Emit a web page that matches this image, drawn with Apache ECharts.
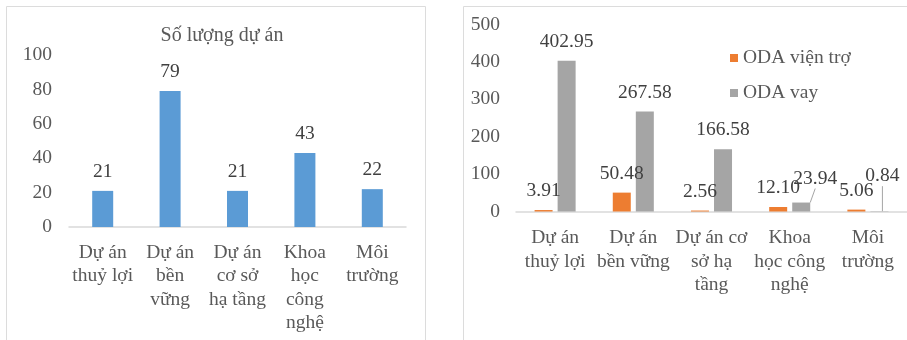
<!DOCTYPE html>
<html>
<head>
<meta charset="utf-8">
<script src="https://cdn.jsdelivr.net/npm/echarts@6/dist/echarts.min.js"></script>
<style>
  html, body { margin: 0; padding: 0; background: #fff; }
  #chart { width: 907px; height: 340px; }
</style>
</head>
<body>
<div id="chart"></div>
<script>
// Project counts by field
const countCategories = ['Dự án\nthuỷ lợi', 'Dự án\nbền\nvững', 'Dự án\ncơ sở\nhạ tầng', 'Khoa\nhọc\ncông\nnghệ', 'Môi\ntrường'];
const projectCounts = [21, 79, 21, 43, 22];
const countAxisMax = 100;
const countAxisStep = 20;

// ODA capital by field
const odaCategories = ['Dự án\nthuỷ lợi', 'Dự án\nbền vững', 'Dự án cơ\nsở hạ\ntầng', 'Khoa\nhọc công\nnghệ', 'Môi\ntrường'];
const odaGrant = [3.91, 50.48, 2.56, 12.10, 5.06];
const odaLoan = [402.95, 267.58, 166.58, 23.94, 0.84];
const odaAxisMax = 500;
const odaAxisStep = 100;

const FONT = "'Liberation Serif', 'Times New Roman', serif";
const FS = 19.5;
const AXIS_TEXT = '#595959';
const VALUE_TEXT = '#404040';
const AXIS_LINE = '#D9D9D9';

// Small label nudges for the crowded loan values (by data index)
const loanLabelShift = { 3: { dx: 14, dy: -5 }, 4: { dx: 3, dy: -16 } };

const chart = echarts.init(document.getElementById('chart'), null, { renderer: 'canvas' });

const valueLabel = {
  show: true,
  position: 'top',
  distance: 9,
  fontFamily: FONT,
  fontSize: FS,
  color: VALUE_TEXT
};

chart.setOption({
  animation: false,
  backgroundColor: '#ffffff',
  title: {
    text: 'Số lượng dự án',
    left: 217,
    top: 21,
    textAlign: 'center',
    textStyle: { fontFamily: FONT, fontSize: 20, fontWeight: 'normal', color: AXIS_TEXT }
  },
  legend: {
    data: ['ODA viện trợ', 'ODA vay'],
    orient: 'vertical',
    left: 725,
    top: 43,
    icon: 'rect',
    itemWidth: 8,
    itemHeight: 8,
    itemGap: 15,
    textStyle: { fontFamily: FONT, fontSize: FS, color: AXIS_TEXT }
  },
  graphic: [
    { type: 'rect', shape: { x: 6.5, y: 6.5, width: 419, height: 360 }, style: { fill: 'none', stroke: '#DCDCDC', lineWidth: 1 }, silent: true, z: -1 },
    { type: 'rect', shape: { x: 463.5, y: 6.5, width: 460, height: 360 }, style: { fill: 'none', stroke: '#DCDCDC', lineWidth: 1 }, silent: true, z: -1 }
  ],
  grid: [
    { left: 69, top: 55, width: 337, height: 172 },
    { left: 516, top: 24.5, width: 400, height: 187 }
  ],
  xAxis: [
    {
      type: 'category', gridIndex: 0, data: countCategories,
      axisLine: { lineStyle: { color: AXIS_LINE, width: 1.5 } },
      axisTick: { show: false },
      axisLabel: { interval: 0, margin: 14, fontFamily: FONT, fontSize: FS, lineHeight: 23.5, color: AXIS_TEXT }
    },
    {
      type: 'category', gridIndex: 1, data: odaCategories,
      axisLine: { lineStyle: { color: AXIS_LINE, width: 1.5 } },
      axisTick: { show: false },
      axisLabel: { interval: 0, margin: 15, fontFamily: FONT, fontSize: FS, lineHeight: 23.5, color: AXIS_TEXT }
    }
  ],
  yAxis: [
    {
      type: 'value', gridIndex: 0, min: 0, max: countAxisMax, interval: countAxisStep,
      axisLine: { show: false }, axisTick: { show: false }, splitLine: { show: false },
      axisLabel: { margin: 17, fontFamily: FONT, fontSize: FS, color: AXIS_TEXT }
    },
    {
      type: 'value', gridIndex: 1, min: 0, max: odaAxisMax, interval: odaAxisStep,
      axisLine: { show: false }, axisTick: { show: false }, splitLine: { show: false },
      axisLabel: { margin: 16, fontFamily: FONT, fontSize: FS, color: AXIS_TEXT }
    }
  ],
  series: [
    {
      name: 'Số lượng dự án',
      type: 'bar',
      xAxisIndex: 0, yAxisIndex: 0,
      data: projectCounts,
      barWidth: 21,
      itemStyle: { color: '#5B9BD5' },
      label: valueLabel
    },
    {
      name: 'ODA viện trợ',
      type: 'bar',
      xAxisIndex: 1, yAxisIndex: 1,
      data: odaGrant,
      barWidth: 18,
      barGap: '28%',
      itemStyle: { color: '#ED7D31' },
      label: Object.assign({}, valueLabel, { formatter: p => p.value.toFixed(2) })
    },
    {
      name: 'ODA vay',
      type: 'bar',
      xAxisIndex: 1, yAxisIndex: 1,
      data: odaLoan.map((v, i) => loanLabelShift[i]
        ? { value: v, labelLine: { show: true, lineStyle: { color: '#A5A5A5', width: 1 } } }
        : v),
      barWidth: 18,
      barGap: '28%',
      itemStyle: { color: '#A5A5A5' },
      label: Object.assign({}, valueLabel, { formatter: p => p.value.toFixed(2) }),
      labelLayout: params => loanLabelShift[params.dataIndex] || {}
    }
  ]
});
</script>
</body>
</html>
